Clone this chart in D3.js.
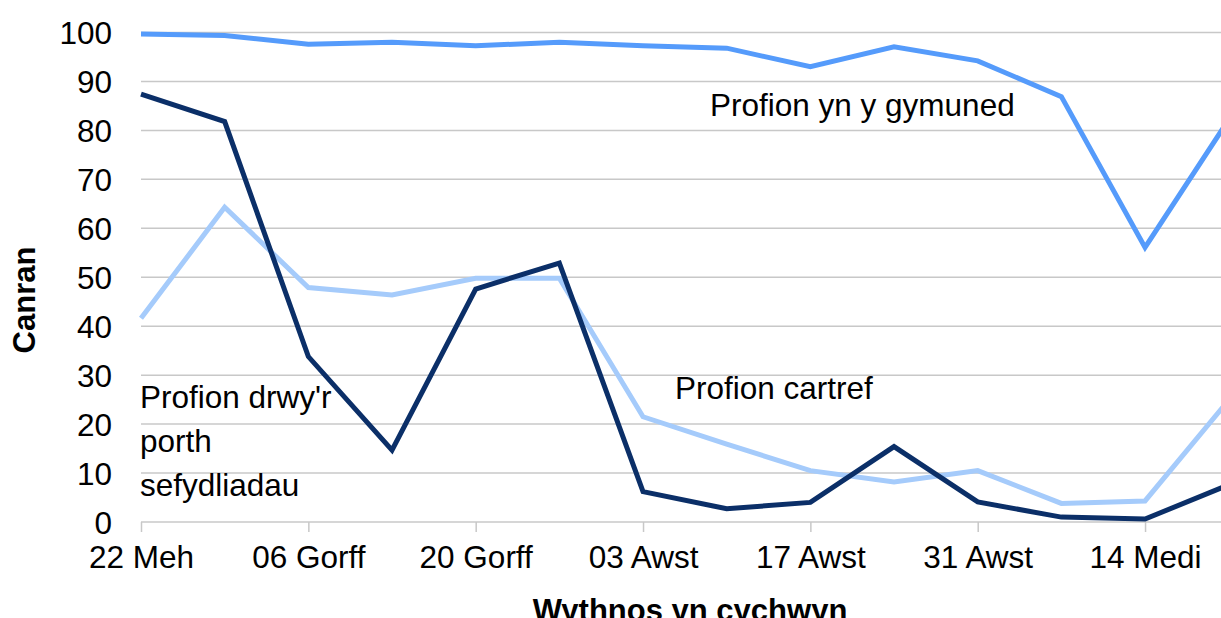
<!DOCTYPE html>
<html lang="cy">
<head>
  <style>
    body { margin: 0; background: #fff; overflow: hidden; }
    text { font-family: "Liberation Sans", Arial, sans-serif; fill: #000; }
    .grid line { stroke: #c8c8c8; stroke-width: 1.5px; }
    .line { fill: none; stroke-width: 5px; stroke-linejoin: miter; }
  </style>
  <script src="https://d3js.org/d3.v7.min.js"></script>
</head>
<body>
  <script>
    // wythnos yn cychwyn (weekly)
    const weeks = ["22 Meh", "29 Meh", "06 Gorff", "13 Gorff", "20 Gorff", "27 Gorff", "03 Awst",
      "10 Awst", "17 Awst", "24 Awst", "31 Awst", "07 Medi", "14 Medi", "21 Medi"];
    const weekTicks = ["22 Meh", "06 Gorff", "20 Gorff", "03 Awst", "17 Awst", "31 Awst", "14 Medi"];
    const yTicks = [0, 10, 20, 30, 40, 50, 60, 70, 80, 90, 100];

    const community = [99.7, 99.4, 97.6, 98.0, 97.3, 98.0, 97.3, 96.8, 93.0, 97.1, 94.2, 86.9, 56.1, 82.2];
    const home = [41.6, 64.3, 47.9, 46.4, 49.8, 49.8, 21.5, 15.9, 10.5, 8.2, 10.5, 3.8, 4.3, 24.9];
    const portal = [87.4, 81.8, 33.8, 14.7, 47.6, 52.9, 6.2, 2.7, 4.0, 15.4, 4.1, 1.0, 0.6, 7.6];

    const series = [
      { name: "Profion yn y gymuned", values: community, color: "#559bfb" },
      { name: "Profion cartref", values: home, color: "#a5cbfb" },
      { name: "Profion drwy'r porth sefydliadau", values: portal, color: "#0b2f68" }
    ];

    const W = 1221, H = 618;
    const plotLeft = 141, plotTop = 32.5, plotBottom = 522;
    const step = 83.67;

    const svg = d3.select("body").append("svg")
      .attr("width", W)
      .attr("height", H)
      .style("display", "block");

    const x = d3.scalePoint()
      .domain(weeks)
      .range([plotLeft, plotLeft + step * (weeks.length - 1)]);

    const y = d3.scaleLinear()
      .domain([0, 100])
      .range([plotBottom, plotTop]);

    // gridlines
    svg.append("g")
      .attr("class", "grid")
      .selectAll("line")
      .data(yTicks)
      .join("line")
      .attr("x1", plotLeft)
      .attr("x2", W)
      .attr("y1", d => y(d))
      .attr("y2", d => y(d));

    // y axis labels
    const yAxis = svg.append("g")
      .attr("transform", `translate(${plotLeft},0)`)
      .call(d3.axisLeft(y).tickValues(yTicks).tickSize(0).tickPadding(29));
    yAxis.select(".domain").remove();
    yAxis.selectAll("text").style("font-size", "31.5px").attr("dy", "0.35em");

    // x axis
    const xAxis = svg.append("g")
      .attr("transform", `translate(0,${plotBottom})`)
      .call(d3.axisBottom(x).tickValues(weekTicks).tickSize(10).tickPadding(14));
    xAxis.select(".domain").remove();
    xAxis.selectAll("line").attr("stroke", "#c8c8c8").attr("stroke-width", 1.5);
    xAxis.selectAll("text").style("font-size", "31.5px").attr("dy", "0.71em");

    // lines
    const line = d3.line()
      .x((d, i) => x(weeks[i]))
      .y(d => y(d));

    svg.selectAll(".line")
      .data(series)
      .join("path")
      .attr("class", "line")
      .attr("stroke", d => d.color)
      .attr("d", d => line(d.values));

    // series labels
    svg.append("text")
      .attr("x", 710).attr("y", 116)
      .style("font-size", "31.5px")
      .text("Profion yn y gymuned");

    svg.append("text")
      .attr("x", 675).attr("y", 399)
      .style("font-size", "31.5px")
      .text("Profion cartref");

    svg.append("text")
      .attr("x", 140).attr("y", 408)
      .style("font-size", "31.5px")
      .selectAll("tspan")
      .data(["Profion drwy'r", "porth", "sefydliadau"])
      .join("tspan")
      .attr("x", 140)
      .attr("dy", (d, i) => i === 0 ? 0 : 44)
      .text(d => d);

    // axis titles
    svg.append("text")
      .attr("transform", `translate(35,300) rotate(-90)`)
      .attr("text-anchor", "middle")
      .style("font-size", "31px")
      .style("font-weight", "bold")
      .text("Canran");

    svg.append("text")
      .attr("x", 690).attr("y", 621)
      .attr("text-anchor", "middle")
      .style("font-size", "31px")
      .style("font-weight", "bold")
      .text("Wythnos yn cychwyn");
  </script>
</body>
</html>
